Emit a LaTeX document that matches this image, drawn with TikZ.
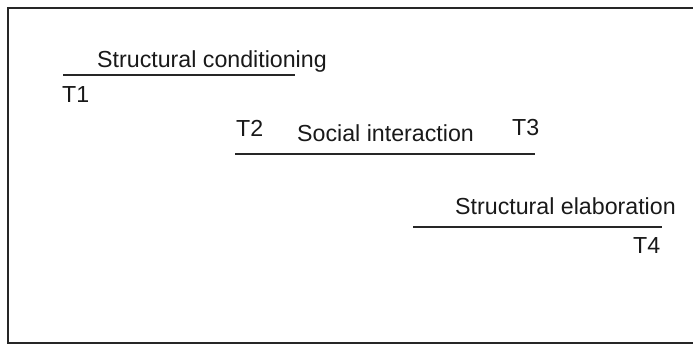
\documentclass[tikz,border=0pt]{standalone}
\usepackage{fontspec}
\setmainfont{Liberation Sans}
\begin{document}
\begin{tikzpicture}[x=1pt,y=-1pt,
  lbl/.style={anchor=base west,inner sep=0pt,font=\fontsize{23.2}{27}\selectfont,text=black!90},
  bar/.style={line width=1.8pt,black!85},
  frame/.style={line width=1.8pt,black!85}]
\useasboundingbox (0,0) rectangle (693,345);
\draw[frame] (720,8) -- (8,8) -- (8,343) -- (720,343);
% line 1
\coordinate (a1) at (63,75);
\coordinate (a2) at (295,75);
\draw[bar] (a1) -- (a2);
\node[lbl] (sc) at (97,67) {Structural conditioning};
\node[lbl] (t1) at (62,102) {T1};
% line 2
\coordinate (b1) at (235,154);
\coordinate (b2) at (535,154);
\draw[bar] (b1) -- (b2);
\node[lbl] (t2) at (236,136) {T2};
\node[lbl] (si) at (297,141) {Social interaction};
\node[lbl] (t3) at (512,135) {T3};
% line 3
\coordinate (c1) at (413,227);
\coordinate (c2) at (662,227);
\draw[bar] (c1) -- (c2);
\node[lbl] (se) at (455,214) {Structural elaboration};
\node[lbl] (t4) at (633,253) {T4};
\end{tikzpicture}
\end{document}
